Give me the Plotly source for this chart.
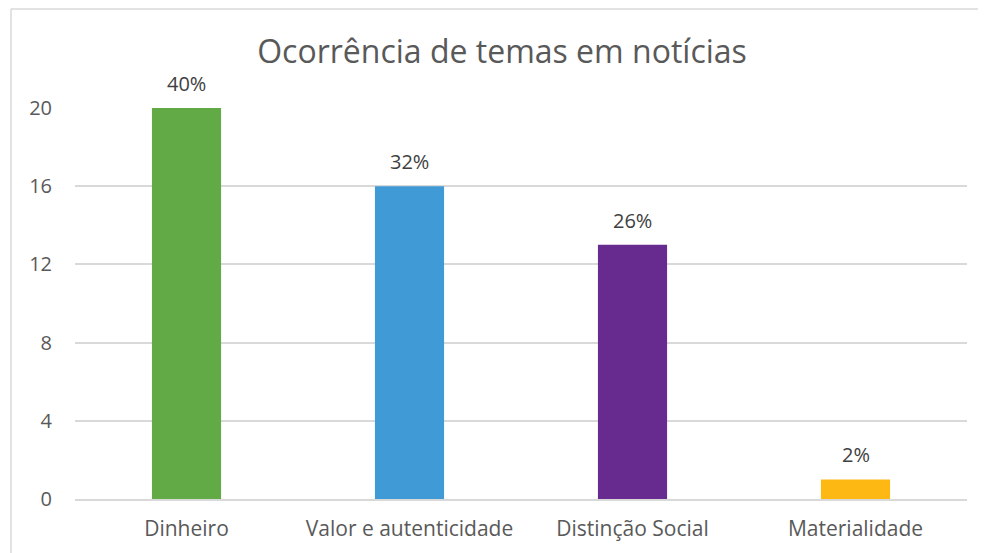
import plotly.graph_objects as go

categories = ["Dinheiro", "Valor e autenticidade", "Distinção Social", "Materialidade"]
values = [20, 16, 13, 1]
pct_labels = ["40%", "32%", "26%", "2%"]
colors = ["#62AA46", "#3F9AD6", "#672A8E", "#FDB813"]
y_ticks = [0, 4, 8, 12, 16, 20]

FONT = "Open Sans"
OFF = 8  # page body margin

fig = go.Figure(go.Bar(
    x=categories, y=values, marker=dict(color=colors, line=dict(width=0)),
    hoverinfo="skip",
))

for c, v, t in zip(categories, values, pct_labels):
    fig.add_annotation(x=c, y=v, text=t, showarrow=False, yanchor="bottom",
                       yshift=9, font=dict(family=FONT, size=20, color="#404040"))

W, H = 986 - OFF, 553 - OFF
L, T = 75 - OFF, 108 - OFF
pw, ph = 892, 391
R, B = W - L - pw, H - T - ph

def px(x):
    return (x - OFF - L) / pw

def py(y):
    return (T + ph - (y - OFF)) / ph

# chart-area border (left + top visible)
fig.add_shape(type="line", xref="paper", yref="paper", x0=px(11), x1=px(1010),
              y0=py(9), y1=py(9), line=dict(color="#D9D9D9", width=1.5))
fig.add_shape(type="line", xref="paper", yref="paper", x0=px(11), x1=px(11),
              y0=py(9), y1=py(570), line=dict(color="#D9D9D9", width=1.5))

fig.update_layout(
    width=W, height=H,
    margin=dict(l=L, r=R, t=T, b=B),
    paper_bgcolor="white", plot_bgcolor="white",
    bargap=0.69,
    showlegend=False,
    title=dict(text="Ocorrência de temas em notícias", x=(502 - OFF) / W, xanchor="center",
               y=1 - (52 - OFF) / H, yanchor="middle",
               font=dict(family=FONT, size=32, color="#595959")),
    font=dict(family=FONT, size=20, color="#595959"),
)
fig.update_yaxes(range=[0, 20], tickvals=y_ticks, showgrid=True, gridcolor="#D9D9D9",
                 gridwidth=1.5, zeroline=False, showline=False, ticks="",
                 ticklabelstandoff=22, tickfont=dict(family=FONT, size=20, color="#595959"))
fig.update_xaxes(showline=True, linecolor="#D9D9D9", linewidth=1.5, ticks="",
                 ticklabelstandoff=10, tickfont=dict(family=FONT, size=21, color="#595959"))

fig.write_html("out.html")
